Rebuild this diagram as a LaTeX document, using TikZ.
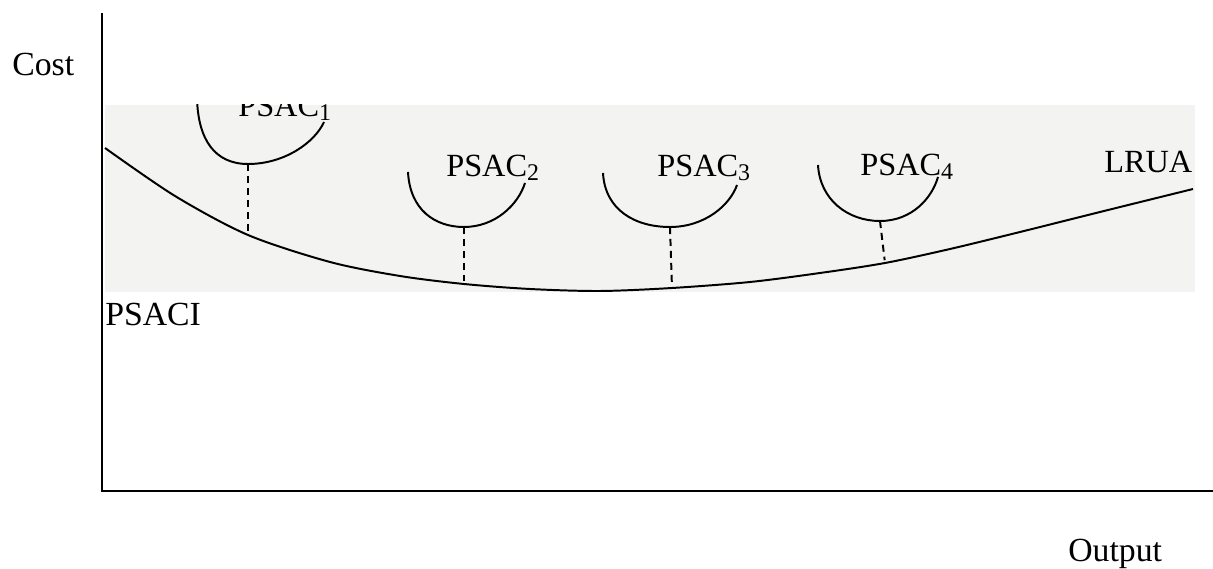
\documentclass[tikz,border=0pt]{standalone}
\usepackage{fontspec}
\setmainfont{Liberation Serif}
\usetikzlibrary{positioning}

\newcommand{\psacsub}[1]{\raisebox{-2.5pt}{\fontsize{17}{17}\selectfont #1}}

\begin{document}
\begin{tikzpicture}[x=0.025cm,y=-0.025cm]
  \tikzstyle{axisline} = [line width=1.4pt]
  \tikzstyle{curve} = [line width=1.4pt]
  \tikzstyle{drop} = [line width=1.4pt,dash pattern=on 5pt off 3.5pt,shorten >=2pt]
  \tikzstyle{tag} = [inner sep=0pt,anchor=base west,font=\fontsize{23}{27}\selectfont]
  \tikzstyle{axistag} = [inner sep=0pt,anchor=base west,font=\fontsize{24}{28}\selectfont]
  \definecolor{bandgray}{RGB}{243,243,241}
  \useasboundingbox (0,0) rectangle (1213,569);

  % the photographed band
  \fill[bandgray] (105,105) rectangle (1195,292);

  % axes
  \coordinate (O) at (102,491);
  \coordinate (ytop) at (102,13);
  \coordinate (xend) at (1213,491);
  \draw[axisline] (ytop) -- (O) -- (xend);

  \node[axistag] (cost) at (12,76) {Cost};
  \node[axistag] (psaci) at (105,326) {PSACI};
  \node[axistag] (output) at (1068,562) {Output};

  % points where the short run curves touch the long run curve
  \coordinate (b1) at (248,164);
  \coordinate (b2) at (464,227);
  \coordinate (b3) at (670,227);
  \coordinate (b4) at (880,221);
  \coordinate (f1) at (248,235);
  \coordinate (f2) at (464,284);
  \coordinate (f3) at (672,288);
  \coordinate (f4) at (885,263);

  % long run curve
  \draw[curve] plot[smooth] coordinates {(105,148) (175,196) (f1) (330,262) (400,276)
    (f2) (530,289) (600,291) (f3) (750,282) (820,273) (f4) (950,249) (1020,232)
    (1100,212) (1193,189)};
  \node[tag] (lrua) at (1104,173) {LRUA};

  \begin{scope}
    \clip (105,105) rectangle (1195,292);
    \draw[curve] (197,98) .. controls (198,140) and (215,164) .. (b1)
      .. controls (285,164) and (315,142) .. (324,122);
    \node[tag] (psac1) at (238,117) {PSAC\psacsub{1}};
  \end{scope}

  \draw[curve] (408,172) .. controls (410,210) and (435,227) .. (b2)
    .. controls (495,227) and (518,205) .. (525,183);
  \draw[curve] (603,173) .. controls (605,210) and (635,227) .. (b3)
    .. controls (705,227) and (730,205) .. (737,185);
  \draw[curve] (818,165) .. controls (820,200) and (848,221) .. (b4)
    .. controls (912,221) and (932,198) .. (938,177);

  \node[tag] (psac2) at (446,177) {PSAC\psacsub{2}};
  \node[tag] (psac3) at (657,177) {PSAC\psacsub{3}};
  \node[tag] (psac4) at (860,176) {PSAC\psacsub{4}};

  % dashed drops
  \draw[drop] (b1) -- (f1);
  \draw[drop] (b2) -- (f2);
  \draw[drop] (b3) -- (f3);
  \draw[drop] (b4) -- (f4);
\end{tikzpicture}
\end{document}
